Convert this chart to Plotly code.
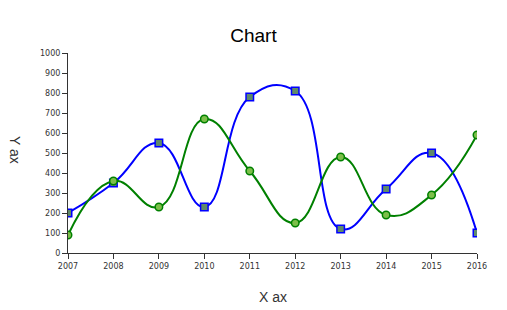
import plotly.graph_objects as go

years = [2007, 2008, 2009, 2010, 2011, 2012, 2013, 2014, 2015, 2016]
blue_vals = [200, 350, 550, 230, 780, 810, 120, 320, 500, 100]
green_vals = [90, 360, 230, 670, 410, 150, 480, 190, 290, 590]
y_ticks = list(range(0, 1001, 100))

fig = go.Figure()
fig.add_trace(go.Scatter(
    x=years, y=blue_vals, mode="lines+markers",
    line=dict(color="#0000ff", width=2, shape="spline", smoothing=1.3),
    marker=dict(symbol="square", size=7.5, color="#5f8a6a", line=dict(color="#0000ff", width=1.5)),
    showlegend=False,
))
fig.add_trace(go.Scatter(
    x=years, y=green_vals, mode="lines+markers",
    line=dict(color="#008000", width=2, shape="spline", smoothing=1.3),
    marker=dict(symbol="circle", size=7.5, color="#7dbf4a", line=dict(color="#008000", width=1.5)),
    showlegend=False,
))

axis_title_font = dict(family="Liberation Sans, Arial", size=14, color="#333")
fig.update_layout(
    width=507, height=310,
    margin=dict(l=68, r=30, t=53, b=57),
    paper_bgcolor="white", plot_bgcolor="white",
    title=dict(text="Chart", x=0.5, xanchor="center", y=0.885, yanchor="middle",
               font=dict(family="Liberation Sans, Arial", size=19, color="#000")),
    xaxis=dict(
        range=[2007, 2016], tickvals=years, ticktext=[str(y) for y in years],
        showgrid=False, zeroline=False, showline=True, linecolor="#333", linewidth=1,
        ticks="outside", ticklen=5, tickcolor="#333", automargin=False,
        tickfont=dict(family="DejaVu Sans", size=8, color="#333"),
    ),
    yaxis=dict(
        range=[0, 1000], tickvals=y_ticks,
        showgrid=False, zeroline=False, showline=True, linecolor="#333", linewidth=1,
        ticks="outside", ticklen=5, tickcolor="#333", automargin=False,
        tickfont=dict(family="DejaVu Sans", size=8, color="#333"),
    ),
    annotations=[
        dict(text="X ax", xref="paper", yref="paper", x=0.5, y=0, yshift=-44,
             xanchor="center", yanchor="middle", showarrow=False, font=axis_title_font),
        dict(text="Y ax", xref="paper", yref="paper", x=0, y=0.5, xshift=-53, yshift=3,
             xanchor="center", yanchor="middle", textangle=90, showarrow=False, font=axis_title_font),
    ],
)

fig.write_html("out.html")
